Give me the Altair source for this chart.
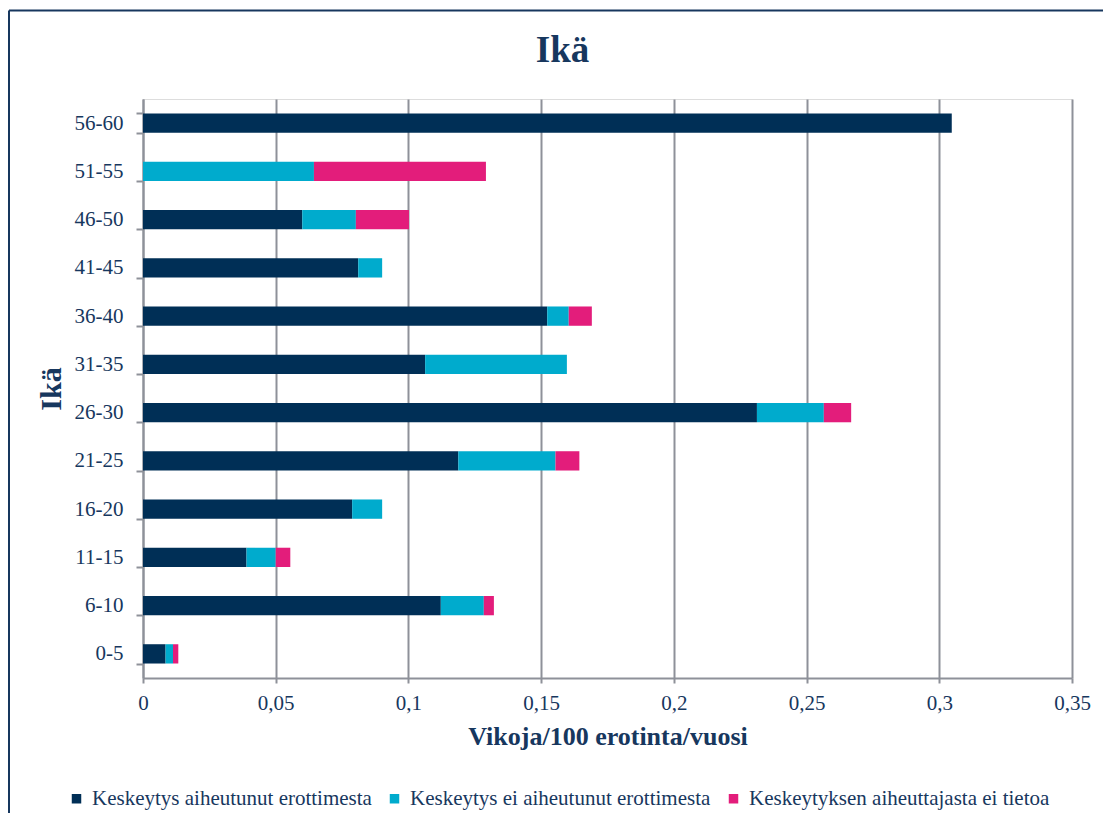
import altair as alt
import pandas as pd

ages = ["0-5", "6-10", "11-15", "16-20", "21-25", "26-30",
        "31-35", "36-40", "41-45", "46-50", "51-55", "56-60"]
series = ["Keskeytys aiheutunut erottimesta",
          "Keskeytys ei aiheutunut erottimesta",
          "Keskeytyksen aiheuttajasta ei tietoa"]
dark = [0.0085, 0.1122, 0.0390, 0.0788, 0.1188, 0.2313,
        0.1063, 0.1523, 0.0811, 0.0600, 0.0, 0.3047]
cyan = [0.0028, 0.0162, 0.0110, 0.0113, 0.0366, 0.0252,
        0.0534, 0.0081, 0.0090, 0.0202, 0.0644, 0.0]
pink = [0.0020, 0.0038, 0.0055, 0.0, 0.0090, 0.0103,
        0.0, 0.0087, 0.0, 0.0200, 0.0648, 0.0]
colors = ["#002F56", "#00ABCD", "#E31D7B"]
x_ticks = [0, 0.05, 0.1, 0.15, 0.2, 0.25, 0.3, 0.35]

rows = []
for vals, s_i in ((dark, 0), (cyan, 1), (pink, 2)):
    for a, v in zip(ages, vals):
        rows.append({"age": a, "series": series[s_i], "idx": s_i, "value": v})
df = pd.DataFrame(rows)

NAVY = "#17375E"
GRID = "#8E9199"
FONT = "Liberation Serif"
W, H = 929, 579

bars = alt.Chart(df).mark_bar().encode(
    y=alt.Y("age:N", sort=list(reversed(ages)),
            scale=alt.Scale(paddingInner=0.6, paddingOuter=0.3),
            axis=alt.Axis(title="Ikä", titleFont=FONT, titleFontSize=30,
                          titleFontWeight="bold", titleColor=NAVY,
                          titleAngle=270, titleX=-92, titleY=H / 2,
                          titleAlign="center", titleBaseline="middle",
                          labelFont=FONT, labelFontSize=21, labelColor=NAVY,
                          labelPadding=13, tickSize=7, tickBand="extent",
                          tickColor=GRID, tickWidth=2,
                          domainColor=GRID, domainWidth=2, grid=False)),
    x=alt.X("value:Q", stack="zero",
            scale=alt.Scale(domain=[0, 0.35], nice=False),
            axis=alt.Axis(title="Vikoja/100 erotinta/vuosi", values=x_ticks,
                          labelExpr="replace(format(datum.value, '.2~f'), '.', ',')",
                          titleFont=FONT, titleFontSize=26, titleFontWeight="bold",
                          titleColor=NAVY, titleX=W / 2, titleY=66,
                          titleAlign="center", titleBaseline="alphabetic",
                          labelFont=FONT, labelFontSize=21, labelColor=NAVY,
                          labelPadding=9, tickSize=5, tickColor=GRID, tickWidth=2,
                          domainColor=GRID, domainWidth=2,
                          grid=True, gridColor=GRID, gridWidth=2, labelFlush=False)),
    color=alt.Color("series:N", scale=alt.Scale(domain=series, range=colors),
                    legend=alt.Legend(title=None, orient="none", direction="horizontal",
                                      legendX=-77, legendY=689, padding=0,
                                      symbolType="square", symbolSize=90,
                                      symbolStrokeWidth=0, labelFont=FONT,
                                      labelFontSize=21, labelColor=NAVY,
                                      labelOffset=5, labelLimit=500,
                                      columnPadding=12)),
    order=alt.Order("idx:Q"),
)

frame_df = pd.DataFrame({"k": [0]})
left_line = alt.Chart(frame_df).mark_rule(color=NAVY, strokeWidth=2).encode(
    x=alt.value(-134), y=alt.value(-88.5), y2=alt.value(760))
top_line = alt.Chart(frame_df).mark_rule(color=NAVY, strokeWidth=2).encode(
    x=alt.value(-134), x2=alt.value(1000), y=alt.value(-88.5))

chart = alt.layer(bars, left_line, top_line).properties(
    width=W, height=H,
    title=alt.Title("Ikä", font=FONT, fontSize=37, fontWeight="bold", color=NAVY,
                    anchor="middle", frame="group", dx=-45, offset=0, dy=89.5,
                    baseline="alphabetic"),
    autosize=alt.AutoSizeParams(type="none"),
    padding={"left": 135, "top": 91, "right": 31, "bottom": 135},
).configure_view(strokeWidth=0).configure(background="white")

chart.save("out.html", embed_options={"renderer": "svg", "actions": False})
